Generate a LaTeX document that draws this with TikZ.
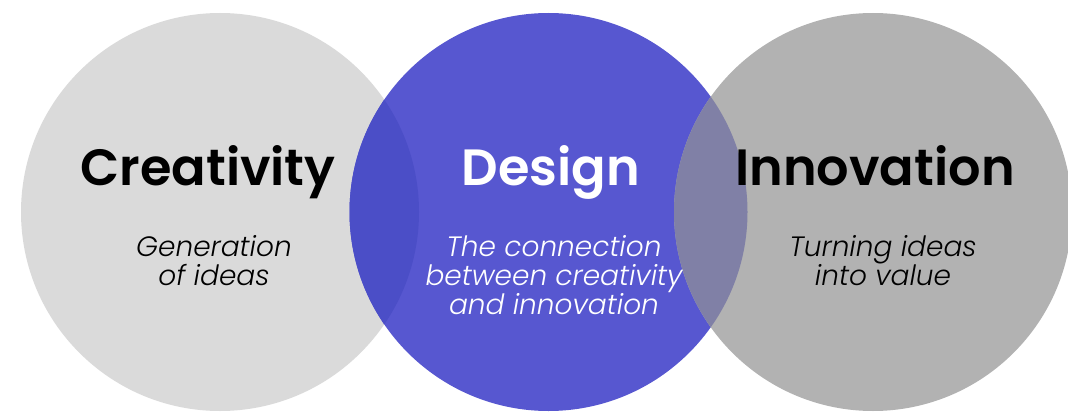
\documentclass[tikz,border=0pt]{standalone}
\usepackage{fontspec}
\setmainfont{Poppins}[ItalicFont={Poppins Light Italic}, BoldFont={Poppins SemiBold}]
\definecolor{creagray}{HTML}{DADADA}
\definecolor{designblue}{HTML}{5757D0}
\definecolor{innogray}{HTML}{B2B2B2}
\definecolor{leftmix}{HTML}{4B4EC7}
\definecolor{rightmix}{HTML}{8080A6}
\begin{document}
\begin{tikzpicture}[x=1pt,y=-1pt,
  ring/.style={circle, minimum size=398pt, inner sep=0pt, draw=none},
  headline/.style={font=\fontsize{51}{51}\selectfont\bfseries, anchor=base, inner sep=0pt},
  caption/.style={font=\fontsize{28}{29}\selectfont\itshape, align=center, anchor=base, inner sep=0pt}]
\useasboundingbox (0,0) rectangle (1068,412);

% the three circles
\node[ring, fill=creagray]   (crea) at (220,212)   {};
\node[ring, fill=designblue] (des)  at (548.5,212) {};
\node[ring, fill=innogray]   (inno) at (873,212)   {};

% overlapping lenses
\begin{scope}
  \clip (crea.center) circle (199);
  \fill[leftmix] (des.center) circle (199);
\end{scope}
\begin{scope}
  \clip (des.center) circle (199);
  \fill[rightmix] (inno.center) circle (199);
\end{scope}

% headings
\node[headline, text=black] (creaT) at (208,185) {Creativity};
\node[headline, text=white] (desT)  at (551,185) {Design};
\node[headline, text=black] (innoT) at (875,185) {Innovation};

% descriptions (base anchor sits on the last line)
\node[caption, text=black] (creaD) at (214,285) {Generation\\of ideas};
\node[caption, text=white] (desD)  at (554,314) {The connection\\between creativity\\and innovation};
\node[caption, text=black] (innoD) at (883,285) {Turning ideas\\into value};
\end{tikzpicture}
\end{document}
